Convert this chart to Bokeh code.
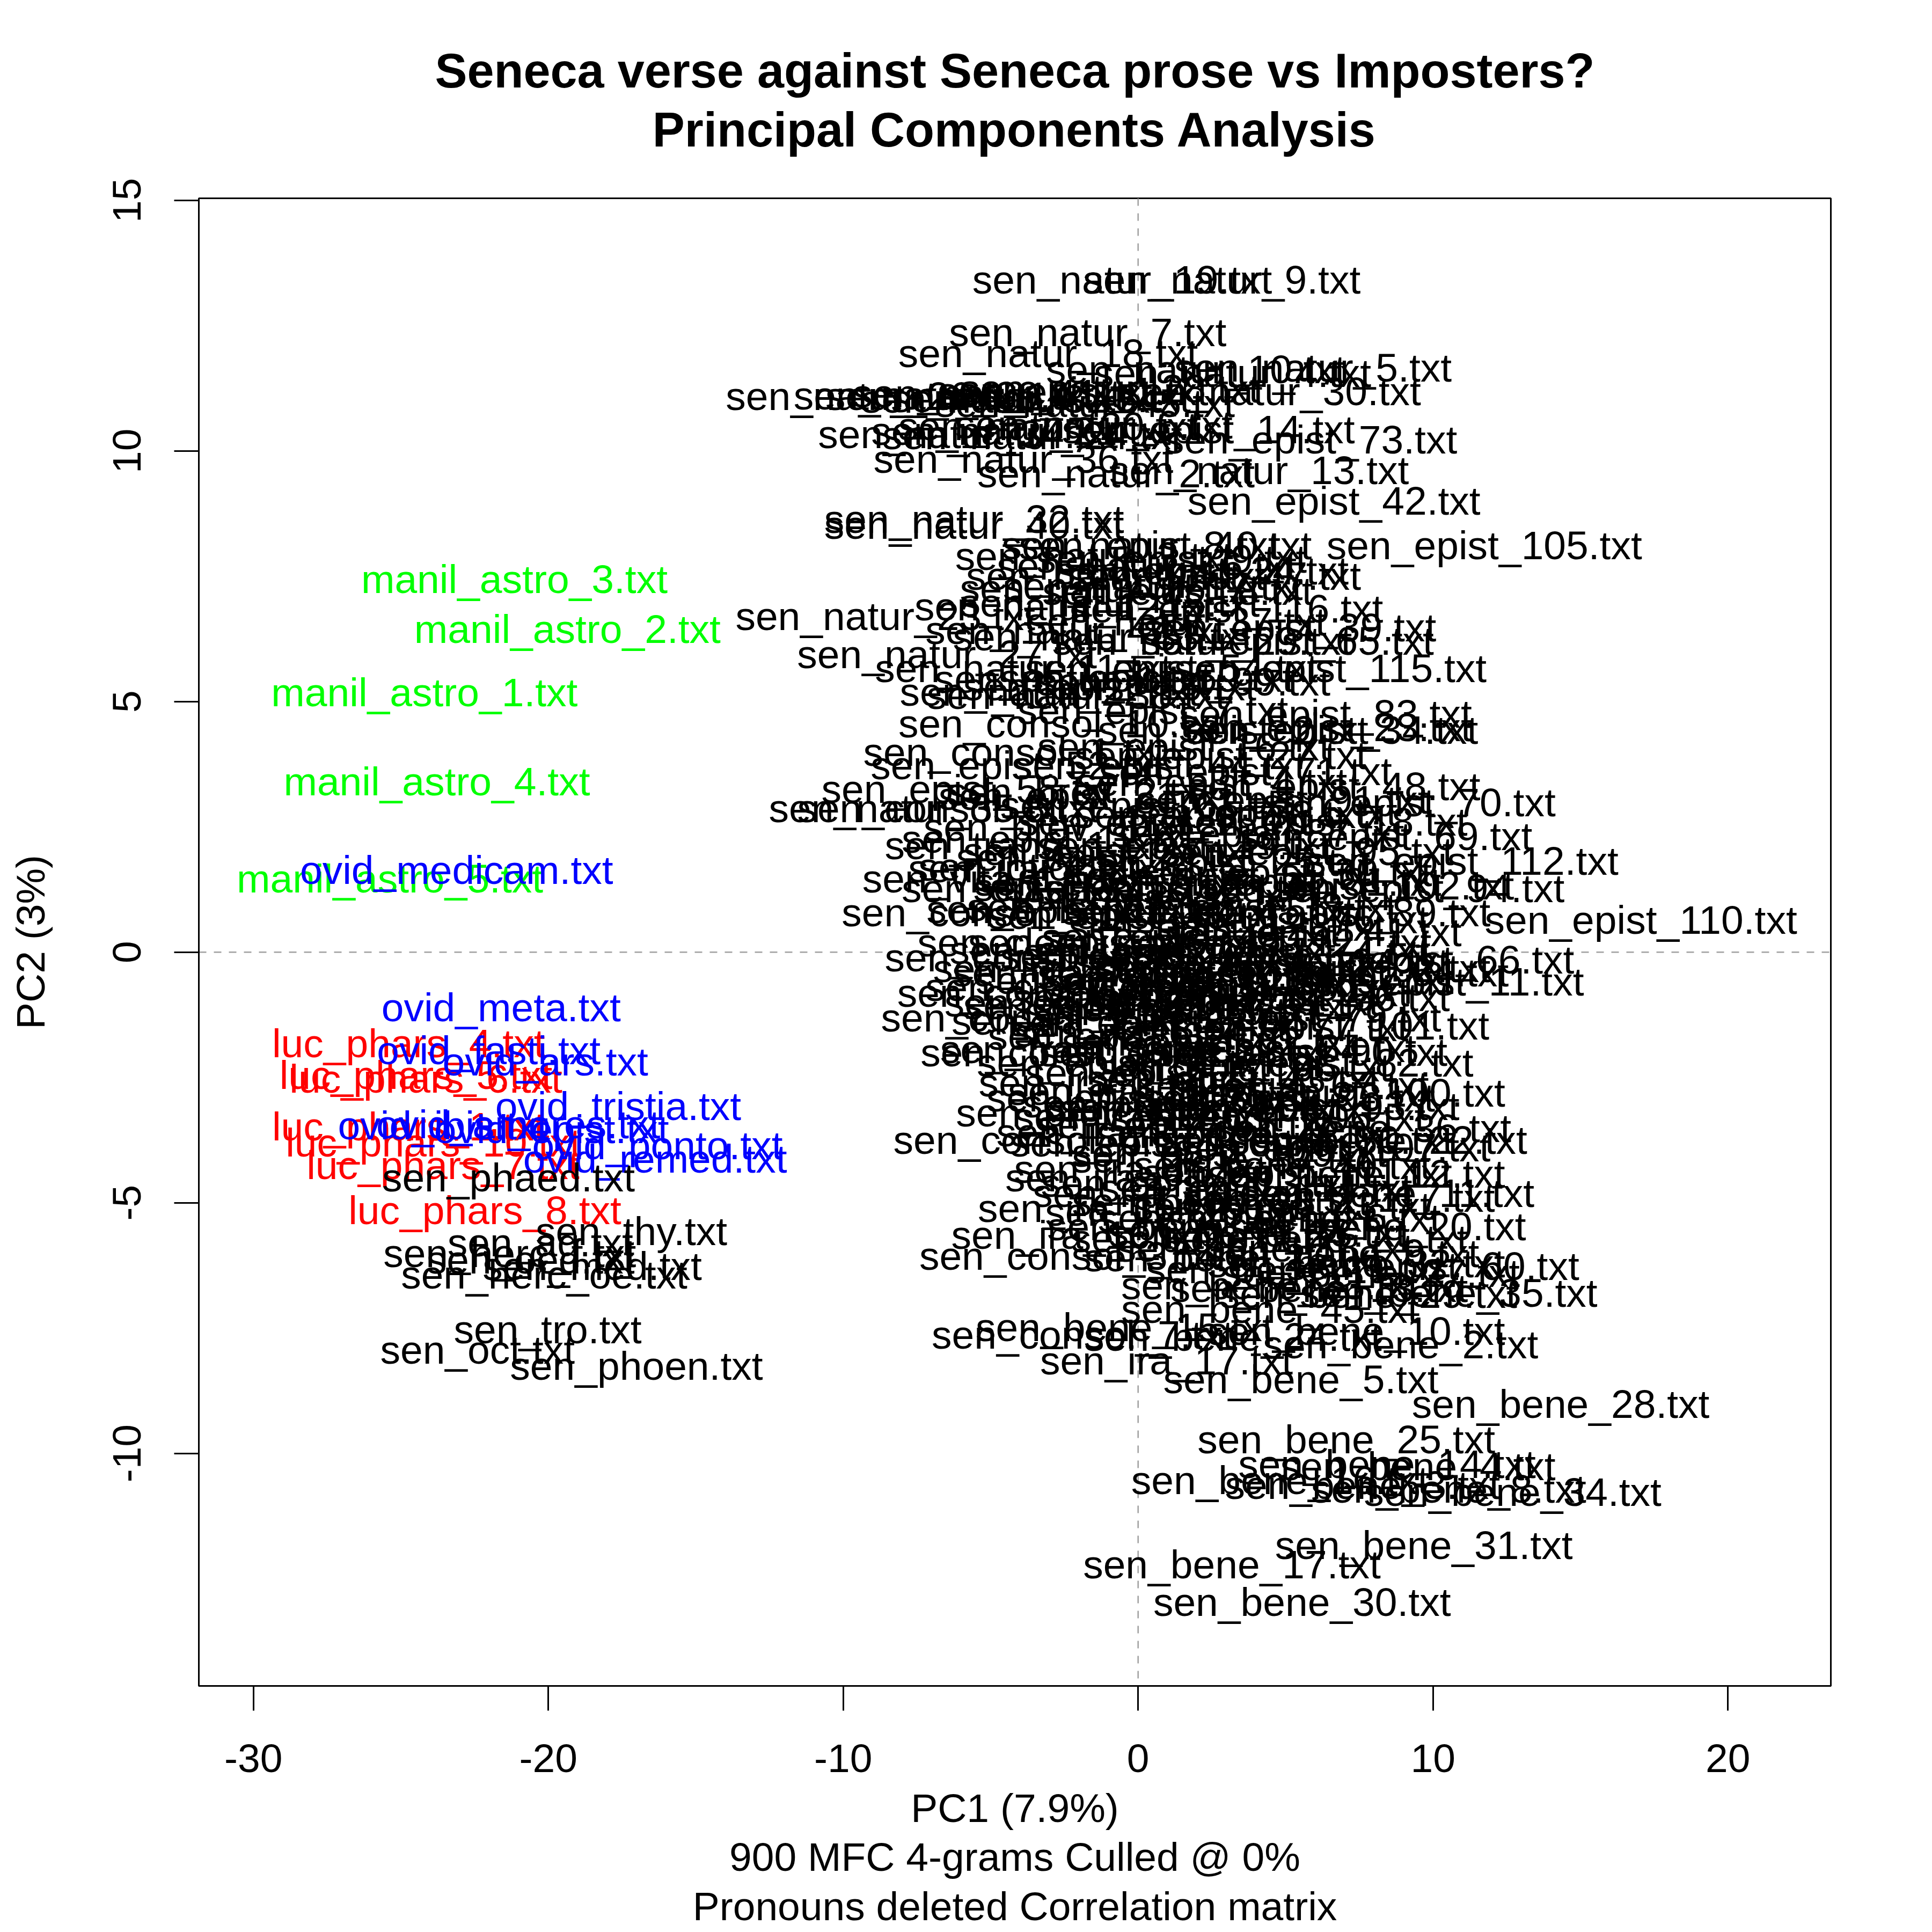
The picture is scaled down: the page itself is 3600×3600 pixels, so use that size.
from bokeh.plotting import figure
from bokeh.models import ColumnDataSource, Range1d, FixedTicker, Span, LinearAxis
from bokeh.core.properties import value
from bokeh.embed import file_html
from bokeh.resources import INLINE

# PCA scores (PC1, PC2) for every text

# the "imposters": Lucan, Manilius, Ovid
imp_names = ["luc_phars_4.txt", "luc_phars_5.txt", "luc_phars_6.txt",
             "luc_phars_1.txt", "luc_phars_10.txt",
             "luc_phars_7.txt", "luc_phars_8.txt",
             "manil_astro_3.txt", "manil_astro_2.txt", "manil_astro_1.txt", "manil_astro_4.txt",
             "manil_astro_5.txt",
             "ovid_medicam.txt", "ovid_meta.txt", "ovid_fasti.txt", "ovid_ars.txt",
             "ovid_tristia.txt", "ovid_ibis.txt", "ovid_amores.txt", "ovid_epist.txt",
             "ovid_ponto.txt", "ovid_remed.txt"]
imp_pc1 = [-24.74, -24.49, -24.15, -24.74, -23.90, -23.57, -22.15,
           -21.15, -19.35, -24.20, -23.78, -25.37,
           -23.11, -21.60, -22.02, -20.10, -17.63, -23.57, -21.02, -19.89, -16.30, -16.38]
imp_pc2 = [-1.82, -2.45, -2.53, -3.48, -3.80, -4.25, -5.15,
           7.44, 6.45, 5.18, 3.41, 1.47,
           1.64, -1.10, -1.96, -2.18, -3.07, -3.46, -3.44, -3.53, -3.85, -4.12]

# Seneca's tragedies
verse_names = ["sen_phaed.txt", "sen_thy.txt", "sen_ag.txt", "sen_herc_f.txt", "sen_oed.txt",
               "sen_med.txt", "sen_herc_oe.txt", "sen_tro.txt", "sen_oct.txt", "sen_phoen.txt"]
verse_pc1 = [-21.35, -17.18, -20.27, -21.31, -20.60, -18.51, -20.14, -20.02, -22.40, -17.01]
verse_pc2 = [-4.49, -5.57, -5.79, -6.01, -6.13, -6.26, -6.43, -7.53, -7.93, -8.25]

# Seneca's prose
prose_names = [
    "sen_natur_19.txt", "sen_natur_9.txt", "sen_natur_7.txt", "sen_natur_18.txt", "sen_natur_10.txt",
    "sen_natur_5.txt", "sen_natur_26.txt", "sen_natur_14.txt", "sen_natur_31.txt", "sen_epist_1.txt",
    "sen_natur_28.txt", "sen_natur_30.txt", "sen_natur_34.txt", "sen_natur_21.txt", "sen_natur_24.txt",
    "sen_natur_20.txt", "sen_natur_6.txt", "sen_epist_14.txt", "sen_epist_73.txt", "sen_natur_36.txt",
    "sen_natur_2.txt", "sen_natur_13.txt", "sen_epist_42.txt", "sen_natur_32.txt", "sen_natur_40.txt",
    "sen_natur_8.txt", "sen_epist_40.txt", "sen_epist_105.txt", "sen_natur_39.txt", "sen_natur_41.txt",
    "sen_natur_43.txt", "sen_natur_45.txt", "sen_natur_4.txt", "sen_natur_3.txt", "sen_natur_12.txt",
    "sen_natur_17.txt", "sen_natur_22.txt", "sen_natur_33.txt", "sen_natur_37.txt",
    "sen_epist_9.txt", "sen_natur_16.txt", "sen_epist_24.txt", "sen_natur_44.txt", "sen_epist_47.txt",
    "sen_natur_25.txt", "sen_epist_8.txt", "sen_natur_15.txt", "sen_epist_116.txt", "sen_natur_23.txt",
    "sen_natur_42.txt", "sen_epist_39.txt", "sen_natur_29.txt", "sen_epist_65.txt", "sen_natur_27.txt",
    "sen_natur_11.txt", "sen_epist_115.txt", "sen_epist_54.txt", "sen_natur_1.txt", "sen_epist_59.txt",
    "sen_epist_10.txt", "sen_epist_99.txt",
    "sen_natur_38.txt", "sen_consol_10.txt", "sen_epist_83.txt", "sen_epist_34.txt", "sen_epist_23.txt",
    "sen_epist_2.txt", "sen_epist_7.txt", "sen_epist_52.txt", "sen_epist_16.txt", "sen_epist_27.txt",
    "sen_epist_44.txt", "sen_epist_71.txt", "sen_epist_48.txt",
    "sen_epist_58.txt", "sen_natur_35.txt", "sen_consol_8.txt", "sen_epist_70.txt", "sen_epist_31.txt",
    "sen_epist_63.txt", "sen_epist_78.txt", "sen_epist_91.txt", "sen_epist_69.txt", "sen_tranq_1.txt",
    "sen_epist_12.txt", "sen_epist_37.txt", "sen_epist_19.txt", "sen_epist_87.txt", "sen_epist_95.txt",
    "sen_epist_112.txt", "sen_ira_4.txt",
    "sen_vita_1.txt", "sen_epist_33.txt", "sen_epist_5.txt", "sen_epist_28.txt", "sen_epist_55.txt",
    "sen_epist_81.txt", "sen_epist_102.txt", "sen_epist_94.txt", "sen_consol_5.txt", "sen_epist_21.txt",
    "sen_epist_36.txt", "sen_epist_45.txt", "sen_epist_76.txt", "sen_epist_89.txt", "sen_epist_110.txt",
    "sen_consol_2.txt", "sen_ira_8.txt", "sen_epist_66.txt", "sen_epist_11.txt", "sen_epist_3.txt",
    "sen_epist_20.txt", "sen_epist_50.txt", "sen_epist_74.txt", "sen_epist_92.txt", "sen_clem_1.txt",
    "sen_epist_26.txt", "sen_epist_57.txt", "sen_epist_85.txt", "sen_epist_97.txt",
    "sen_consol_6.txt", "sen_ira_1.txt", "sen_tranq_2.txt", "sen_epist_13.txt", "sen_epist_29.txt",
    "sen_epist_51.txt", "sen_epist_79.txt", "sen_epist_101.txt", "sen_epist_32.txt", "sen_epist_62.txt",
    "sen_epist_84.txt", "sen_epist_90.txt",
    "sen_ira_10.txt", "sen_epist_17.txt", "sen_epist_43.txt", "sen_epist_67.txt", "sen_bene_39.txt",
    "sen_bene_41.txt", "sen_epist_93.txt",
    "sen_ira_12.txt", "sen_bene_36.txt", "sen_epist_61.txt", "sen_bene_42.txt", "sen_epist_80.txt",
    "sen_consol_4.txt", "sen_bene_22.txt", "sen_ira_13.txt", "sen_bene_37.txt", "sen_bene_40.txt",
    "sen_bene_12.txt",
    "sen_bene_11.txt", "sen_ira_14.txt", "sen_bene_38.txt", "sen_bene_43.txt", "sen_ira_15.txt",
    "sen_bene_20.txt", "sen_ira_16.txt", "sen_bene_44.txt", "sen_bene_23.txt", "sen_bene_21.txt",
    "sen_consol_3.txt", "sen_epist_60.txt", "sen_bene_26.txt", "sen_bene_19.txt", "sen_bene_32.txt",
    "sen_bene_33.txt", "sen_bene_35.txt", "sen_bene_13.txt", "sen_bene_29.txt", "sen_bene_45.txt",
    "sen_bene_15.txt", "sen_consol_7.txt", "sen_bene_10.txt", "sen_bene_2.txt", "sen_bene_24.txt",
    "sen_ira_17.txt",
    "sen_bene_5.txt", "sen_bene_28.txt", "sen_bene_25.txt", "sen_bene_14.txt", "sen_bene_4.txt",
    "sen_bene_16.txt", "sen_bene_3.txt", "sen_bene_8.txt", "sen_bene_34.txt", "sen_bene_31.txt",
    "sen_bene_17.txt", "sen_bene_30.txt",
    "sen_epist_4.txt", "sen_epist_6.txt", "sen_epist_15.txt", "sen_epist_18.txt", "sen_epist_22.txt",
    "sen_epist_25.txt", "sen_epist_30.txt", "sen_epist_35.txt", "sen_epist_38.txt", "sen_epist_41.txt",
    "sen_epist_46.txt", "sen_epist_49.txt", "sen_epist_53.txt", "sen_epist_56.txt", "sen_epist_64.txt",
    "sen_epist_68.txt", "sen_epist_72.txt", "sen_epist_75.txt", "sen_epist_77.txt", "sen_epist_82.txt",
    "sen_epist_86.txt", "sen_epist_88.txt", "sen_epist_96.txt", "sen_epist_98.txt", "sen_epist_100.txt",
    "sen_epist_103.txt", "sen_epist_104.txt", "sen_epist_106.txt", "sen_epist_107.txt", "sen_epist_108.txt",
    "sen_epist_109.txt", "sen_epist_111.txt", "sen_epist_113.txt", "sen_epist_114.txt", "sen_epist_117.txt",
    "sen_epist_118.txt", "sen_epist_119.txt", "sen_epist_120.txt", "sen_epist_121.txt", "sen_epist_122.txt",
    "sen_epist_123.txt", "sen_epist_124.txt", "sen_bene_1.txt", "sen_bene_6.txt", "sen_bene_7.txt",
    "sen_bene_9.txt", "sen_bene_18.txt", "sen_bene_27.txt", "sen_ira_2.txt", "sen_ira_3.txt",
    "sen_ira_5.txt", "sen_ira_6.txt", "sen_ira_7.txt", "sen_ira_9.txt", "sen_ira_11.txt",
    "sen_brev_1.txt", "sen_brev_2.txt", "sen_prov_1.txt", "sen_const_1.txt", "sen_otio_1.txt",
    "sen_consol_1.txt", "sen_consol_9.txt", "sen_clem_2.txt", "sen_clem_3.txt",
]
prose_pc1 = [
    -0.54, 2.84, -1.71, -3.05, 1.96, 5.93, -8.90, -5.52, -4.30, -2.21,
    -0.96, 4.51, -5.77, -3.97, -3.59, -3.05, -1.50, 2.38, 5.85, -3.89,
    -0.75, 4.10, 6.64, -5.56, -5.56, 0.08, 0.92, 11.74, -6.60, -4.60,
    -3.30, -1.80, 3.20, -1.50, -2.50, 0.50, -3.00, -1.20, 1.30,
    1.13, 0.29, 2.17, -0.75, 2.59, -0.96, 1.34, -0.96, 3.01, -8.57,
    -2.13, 5.14, 2.17, 5.06, -6.48, -3.89, 6.52, 1.13, -2.21, 0.29,
    -0.96, 1.55,
    -2.09, -2.63, 6.35, 6.56, 6.35, 3.22, 0.50, -4.10, 1.55, 2.80,
    0.71, 3.64, 6.64,
    -5.77, -7.44, -6.44, 9.19, -1.80, 0.29, 2.80, 4.89, 8.40, -3.89,
    -3.05, -0.96, 1.55, 4.05, 5.73, 10.99, -3.89,
    -5.14, -3.05, -0.96, 1.13, 3.22, 5.31, 7.40, 9.49, -4.93, -2.21,
    -0.13, 2.38, 4.89, 6.98, 17.05,
    -3.47, -3.05, 9.82, 10.20, -1.80, 0.29, 2.80, 4.89, 6.98, -2.63,
    -0.54, 1.55, 3.64, 5.73,
    -3.05, -2.42, -2.01, -0.96, 1.13, 3.22, 5.31, 6.56, -0.13, 2.38,
    4.47, 5.52,
    -0.13, 1.13, 3.22, 4.89, 1.13, 1.96, 5.93,
    0.08, 7.61, 1.55, 3.64, 5.73, -3.18, 8.15, 0.08, 2.80, 4.89,
    7.40,
    8.44, 0.71, 2.80, 4.89, 1.13, 8.11, -2.05, 1.96, 4.05, 6.14,
    -2.30, 9.99, 3.22, 5.31, 7.40, 4.47, 10.53, 6.14, 7.81, 4.47,
    -0.46, -1.88, 7.40, 8.90, 3.22, 0.96,
    5.52, 14.33, 7.06, 8.44, 9.49, 4.81, 7.61, 10.53, 12.70, 9.69,
    3.18, 5.56,
    2.50, 4.20, 0.90, 6.20, -1.20, 2.90, 5.00, 0.40, 3.80, 6.00,
    -0.80, 1.70, 3.50, 5.60, 7.60, -1.60, 0.60, 2.40, 4.20, 6.40,
    -0.50, 1.60, 3.60, 5.10, 7.10, 0.20, 2.70, 4.40, 6.60, 1.00,
    3.10, 5.40, 2.00, 4.00, 6.80, 1.40, 3.90, 2.20, 4.60, 1.10,
    3.00, 5.20, 3.30, 5.60, 2.40, 6.90, 4.30, 7.90, -1.50, -0.90,
    -1.90, -0.30, -2.40, -0.60, -1.20, -2.80, -2.00, -1.70, -2.60, -3.20,
    -4.20, -3.60, -2.90, -1.00,
]
prose_pc2 = [
    13.42, 13.42, 12.37, 11.95, 11.63, 11.66, 11.09, 11.09, 11.04, 11.19,
    11.24, 11.19, 10.33, 10.40, 10.31, 10.50, 10.53, 10.43, 10.23, 9.84,
    9.55, 9.62, 9.01, 8.64, 8.52, 8.12, 8.12, 8.12, 11.10, 11.15,
    11.05, 10.95, 11.55, 7.90, 6.90, 7.30, 5.20, 6.30, 6.60,
    7.85, 7.71, 7.61, 7.51, 7.51, 7.26, 7.21, 6.97, 6.85, 6.70,
    6.43, 6.48, 6.21, 6.21, 5.94, 5.67, 5.67, 5.67, 5.45, 5.47,
    5.30, 5.40,
    5.13, 4.56, 4.76, 4.44, 4.49, 4.44, 4.83, 3.73, 4.10, 3.93,
    3.73, 3.61, 3.31,
    3.26, 2.87, 2.87, 2.99, 3.12, 2.94, 2.75, 3.04, 2.31, 2.13,
    2.26, 2.01, 2.13, 2.38, 2.01, 1.82, 1.67,
    1.47, 1.28, 1.40, 1.28, 1.52, 1.40, 1.33, 1.28, 0.79, 0.86,
    0.74, 0.83, 0.66, 0.79, 0.64,
    -0.10, -0.32, -0.15, -0.59, 0.05, -0.07, -0.20, 0.00, -0.32, -0.69,
    -0.56, -0.44, -0.69, -0.56,
    -0.81, -1.37, -1.94, -1.06, -1.18, -0.98, -1.30, -1.47, -1.67, -1.79,
    -1.91, -1.99,
    -2.77, -2.40, -2.53, -2.65, -3.02, -3.09, -3.07,
    -3.29, -3.51, -3.44, -3.63, -3.75, -3.75, -3.75, -4.32, -4.12, -4.25,
    -4.42,
    -4.81, -4.81, -4.98, -5.06, -5.18, -5.47, -5.64, -5.47, -5.60, -5.72,
    -6.06, -6.26, -6.09, -6.33, -6.21, -6.65, -6.80, -6.70, -6.82, -7.12,
    -7.48, -7.63, -7.56, -7.83, -7.68, -8.15,
    -8.52, -9.01, -9.72, -10.21, -10.26, -10.53, -10.63, -10.70, -10.77, -11.83,
    -12.22, -12.96,
    3.40, 2.80, 2.60, 2.60, 1.90, 1.80, 1.60, 1.10, 0.90, 0.40,
    0.20, 0.30, -0.30, -0.90, -0.40, -1.00, -1.40, -1.10, -1.50, -2.20,
    -2.20, -2.00, -2.30, -2.90, -2.80, -2.90, -3.10, -3.30, -3.90, -3.80,
    -4.00, -4.40, -4.60, -4.70, -4.90, 0.00, -0.80, -0.60, 0.20, -0.90,
    0.50, -0.20, -5.30, -5.30, -5.70, -6.00, -5.90, -6.40, -2.60, -3.60,
    0.90, -1.60, -0.40, -4.50, -5.10, 2.50, 3.20, -3.20, -2.00, 1.70,
    4.00, -1.30, 0.20, 1.30,
]

x_ticks = [-30, -20, -10, 0, 10, 20]
y_ticks = [-10, -5, 0, 5, 10, 15]

title_lines = ["Seneca verse against Seneca prose vs Imposters?", "Principal Components Analysis"]
x_label_lines = ["PC1 (7.9%)", "900 MFC 4-grams Culled @ 0%", "Pronouns deleted Correlation matrix"]
y_label = "PC2 (3%)"

FONT = "Liberation Sans"


def colour_for(name):
    if name.startswith("luc_"):
        return "#FF0000"
    if name.startswith("manil_"):
        return "#00FF00"
    if name.startswith("ovid_"):
        return "#0000FF"
    return "#000000"


names = imp_names + verse_names + prose_names
src = ColumnDataSource(data=dict(
    pc1=imp_pc1 + verse_pc1 + prose_pc1,
    pc2=imp_pc2 + verse_pc2 + prose_pc2,
    name=names,
    colour=[colour_for(n) for n in names],
))

p = figure(width=3600, height=3600,
           x_range=Range1d(-31.85, 23.49), y_range=Range1d(-14.64, 15.04),
           output_backend="svg", toolbar_location=None,
           min_border_left=370, min_border_right=189,
           min_border_top=369, min_border_bottom=459)
p.background_fill_color = "white"
p.border_fill_color = "white"
p.grid.visible = False
p.outline_line_color = "black"
p.outline_line_width = 3

p.xaxis.ticker = FixedTicker(ticks=x_ticks)
p.yaxis.ticker = FixedTicker(ticks=y_ticks)
p.xaxis.major_label_overrides = {t: str(t) for t in x_ticks}
p.yaxis.major_label_overrides = {t: str(t) for t in y_ticks}
p.axis.axis_line_width = 3
p.axis.major_tick_line_width = 3
p.axis.major_tick_out = 46
p.axis.major_tick_in = 0
p.axis.minor_tick_out = 0
p.axis.minor_tick_in = 0
p.axis.major_label_text_font = FONT
p.axis.major_label_text_font_size = "75px"
p.axis.major_label_text_color = "black"
p.axis.axis_label_text_font = FONT
p.axis.axis_label_text_font_size = "75px"
p.axis.axis_label_text_font_style = "normal"
p.axis.axis_label_text_color = "black"
p.xaxis.major_label_standoff = 63
p.yaxis.major_label_standoff = 62
p.yaxis.major_label_orientation = "vertical"
p.yaxis.axis_label = y_label
p.yaxis.axis_label_standoff = 110
p.xaxis.axis_label = "\n".join(x_label_lines)
p.xaxis.axis_label_text_line_height = 1.09
p.xaxis.axis_label_standoff = 22

# dashed reference lines through the origin
for dim in ("height", "width"):
    p.add_layout(Span(location=0, dimension=dim, line_color="#a0a0a0",
                      line_dash="14 14", line_width=2.5, level="underlay"))

p.text(x="pc1", y="pc2", text="name", source=src, text_color="colour",
       text_font=value(FONT), text_font_size="75px",
       text_align="center", text_baseline="middle")

# two-line bold title: each line is the label of a bare axis above the frame,
# so that both are centred over the plot; the second line sits nearest the frame
for txt, gap in zip(reversed(title_lines), [78, 7]):
    top_axis = LinearAxis(ticker=FixedTicker(ticks=[]), axis_label=txt,
                          axis_line_color=None, major_tick_out=0, major_tick_in=0,
                          minor_tick_out=0, minor_tick_in=0, major_label_standoff=0,
                          axis_label_standoff=gap, axis_label_text_font=FONT,
                          axis_label_text_font_size="90px", axis_label_text_font_style="bold",
                          axis_label_text_color="black", axis_label_text_line_height=1.0)
    p.add_layout(top_axis, "above")

open("out.html", "w").write(file_html(p, INLINE))
